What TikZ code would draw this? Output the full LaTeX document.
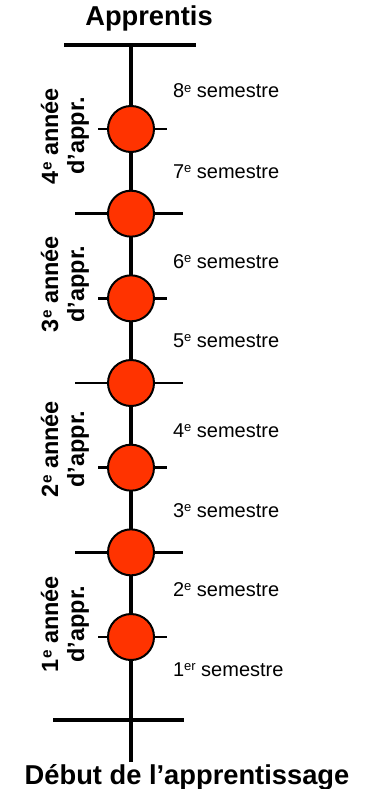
\documentclass[tikz,border=0pt]{standalone}
\usepackage{graphicx}
\usepackage{fontspec}
\setmainfont{Liberation Sans}
\usetikzlibrary{positioning,chains}
\definecolor{markred}{RGB}{255,51,0}
\newcommand{\ordsup}[1]{\raisebox{0.28em}{\scalebox{0.65}{#1}}}

\begin{document}
\begin{tikzpicture}[x=1pt,y=-1pt,
	every node/.style={inner sep=0pt,outer sep=0pt},
	marknode/.style={draw=black,line width=2pt,circle,fill=markred,minimum size=46pt},
	axisline/.style={line width=3.2pt},
	tickline/.style={line width=2.6pt},
	semlabel/.style={anchor=base west,font=\fontsize{20}{24}\selectfont},
	yearlabel/.style={rotate=90,align=center,font=\fontsize{23.5}{26}\selectfont\bfseries},
	titlelabel/.style={anchor=base,font=\fontsize{27.3}{30}\selectfont\bfseries}
	]
	\useasboundingbox (0,0) rectangle (365,789);
	
	% the semester marks
	\begin{scope}[start chain=going below,node distance=38.67pt]
	\node[marknode,on chain] (c7) at (131,129) {};
	\node[marknode,on chain] (c6) {};
	\node[marknode,on chain] (c5) {};
	\node[marknode,on chain] (c4) {};
	\node[marknode,on chain] (c3) {};
	\node[marknode,on chain] (c2) {};
	\node[marknode,on chain] (c1) {};
	\end{scope}
	
	% the ends of the axis
	\coordinate (top) at (131,45);
	\coordinate (bottom) at (131,762);
	\draw[axisline] (64,45) -- (196,45);
	\draw[axisline] (53,720) -- (184,720);
	
	% the axis
	\draw[axisline] (top) -- (c7);
	\draw[axisline] (c7) -- (c6);
	\draw[axisline] (c6) -- (c5);
	\draw[axisline] (c5) -- (c4);
	\draw[axisline] (c4) -- (c3);
	\draw[axisline] (c3) -- (c2);
	\draw[axisline] (c2) -- (c1);
	\draw[axisline] (c1) -- (bottom);
	
	% the ticks
	\draw[tickline] (c7.west) -- ++(-10,0) (c7.east) -- ++(13,0);
	\draw[tickline] (c6.west) -- ++(-33,0) (c6.east) -- ++(29,0);
	\draw[tickline] (c5.west) -- ++(-10,0) (c5.east) -- ++(13,0);
	\draw[tickline] (c4.west) -- ++(-33,0) (c4.east) -- ++(29,0);
	\draw[tickline] (c3.west) -- ++(-10,0) (c3.east) -- ++(13,0);
	\draw[tickline] (c2.west) -- ++(-33,0) (c2.east) -- ++(29,0);
	\draw[tickline] (c1.west) -- ++(-10,0) (c1.east) -- ++(13,0);
	
	% the semesters
	\node[semlabel] (s8) at (173,98) {8\ordsup{e} semestre};
	\node[semlabel] (s7) at (173,178) {7\ordsup{e} semestre};
	\node[semlabel] (s6) at (173,268) {6\ordsup{e} semestre};
	\node[semlabel] (s5) at (173,347) {5\ordsup{e} semestre};
	\node[semlabel] (s4) at (173,437) {4\ordsup{e} semestre};
	\node[semlabel] (s3) at (173,517) {3\ordsup{e} semestre};
	\node[semlabel] (s2) at (173,596) {2\ordsup{e} semestre};
	\node[semlabel] (s1) at (173,676) {1\ordsup{er} semestre};
	
	% the years
	\node[yearlabel] (y4) at (65,136) {4\ordsup{e} année\\d’appr.};
	\node[yearlabel] (y3) at (65,284) {3\ordsup{e} année\\d’appr.};
	\node[yearlabel] (y2) at (65,449) {2\ordsup{e} année\\d’appr.};
	\node[yearlabel] (y1) at (65,624) {1\ordsup{e} année\\d’appr.};
	
	% the titles
	\node[titlelabel] (apprentis) at (149,26) {Apprentis};
	\node[titlelabel] (debut) at (187,784) {Début de l’apprentissage};
\end{tikzpicture}
\end{document}
